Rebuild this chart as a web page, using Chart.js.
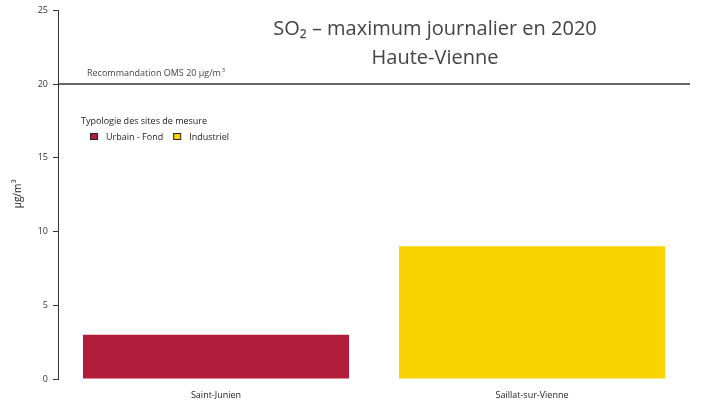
<!DOCTYPE html>
<html>
<head>
<meta charset="utf-8">
<script src="https://cdn.jsdelivr.net/npm/chart.js@4/dist/chart.umd.min.js"></script>
<style>
  body { margin: 0; background: #fff; }
  #wrap { width: 701px; height: 403px; }
</style>
</head>
<body>
<div id="wrap"><canvas id="myChart" width="701" height="403"></canvas></div>
<script>
// data
const sites = ['Saint-Junien', 'Saillat-sur-Vienne'];
const values = [3, 9];
const siteTypes = ['Urbain - Fond', 'Industriel'];
const typeColors = ['#B21D3B', '#F9D300'];
const yTicks = [0, 5, 10, 15, 20, 25];
const oms = 20;

const FONT = '"Open Sans", "Noto Sans", sans-serif';

// custom decorations: title, OMS line, legend
const extras = {
  id: 'extras',
  afterDraw(chart) {
    const ctx = chart.ctx;
    const y = chart.scales.y;
    const area = chart.chartArea;
    ctx.save();

    // OMS line
    const yy = y.getPixelForValue(oms);
    ctx.strokeStyle = '#333';
    ctx.lineWidth = 1.5;
    ctx.beginPath();
    ctx.moveTo(area.left, yy);
    ctx.lineTo(area.right, yy);
    ctx.stroke();

    ctx.fillStyle = '#444';
    ctx.font = '9px ' + FONT;
    ctx.textBaseline = 'alphabetic';
    ctx.textAlign = 'left';
    const lbl = 'Recommandation OMS ' + oms + ' µg/m';
    ctx.fillText(lbl, 87, yy - 8);
    const w = ctx.measureText(lbl).width;
    ctx.font = '6px ' + FONT;
    ctx.fillText('3', 87 + w + 1, yy - 12);

    // title
    ctx.fillStyle = '#444';
    ctx.font = '20px ' + FONT;
    ctx.textAlign = 'center';
    ctx.fillText('SO\u2082 \u2013 maximum journalier en 2020', 435, 35);
    ctx.fillText('Haute-Vienne', 435, 64);

    // legend
    ctx.textAlign = 'left';
    ctx.font = '9px ' + FONT;
    ctx.fillStyle = '#222';
    ctx.fillText('Typologie des sites de mesure', 81, 124);
    let x = 90;
    siteTypes.forEach((t, i) => {
      ctx.fillStyle = typeColors[i];
      ctx.fillRect(x, 133, 7, 6);
      ctx.strokeStyle = '#222';
      ctx.lineWidth = 1;
      ctx.strokeRect(x + 0.5, 133.5, 7, 6);
      ctx.fillStyle = '#222';
      ctx.fillText(t, x + 16, 140);
      x += 16 + ctx.measureText(t).width + 10;
    });

    // y axis title
    ctx.save();
    ctx.translate(21, 193);
    ctx.rotate(-Math.PI / 2);
    ctx.font = '10px ' + FONT;
    ctx.fillStyle = '#222';
    ctx.textAlign = 'center';
    ctx.fillText('µg/m', -3, 0);
    const uw = ctx.measureText('µg/m').width;
    ctx.font = '7px ' + FONT;
    ctx.textAlign = 'left';
    ctx.fillText('3', -3 + uw / 2 + 0.5, -5);
    ctx.restore();

    ctx.restore();
  }
};

new Chart(document.getElementById('myChart'), {
  type: 'bar',
  data: {
    labels: sites,
    datasets: [{
      data: values,
      backgroundColor: typeColors,
      borderWidth: 0,
      barPercentage: 0.842,
      categoryPercentage: 1
    }]
  },
  options: {
    responsive: false,
    animation: false,
    layout: { padding: { top: 10, right: 11, left: 0, bottom: 0 } },
    plugins: { legend: { display: false }, tooltip: { enabled: false }, title: { display: false } },
    scales: {
      x: {
        grid: { display: false },
        border: { display: false },
        ticks: { color: '#222', font: { family: FONT, size: 9 }, padding: 3, maxRotation: 0 },
        afterFit(s) { s.height = 24; }
      },
      y: {
        min: 0, max: 25,
        afterBuildTicks(s) { s.ticks = yTicks.map(v => ({ value: v })); },
        grid: { drawOnChartArea: false, drawTicks: true, tickLength: 5, color: '#333' },
        border: { display: true, color: '#333', width: 1 },
        ticks: { color: '#333', font: { family: FONT, size: 9 }, padding: 5 },
        afterFit(s) { s.width = 58; }
      }
    }
  },
  plugins: [extras]
});
</script>
</body>
</html>
